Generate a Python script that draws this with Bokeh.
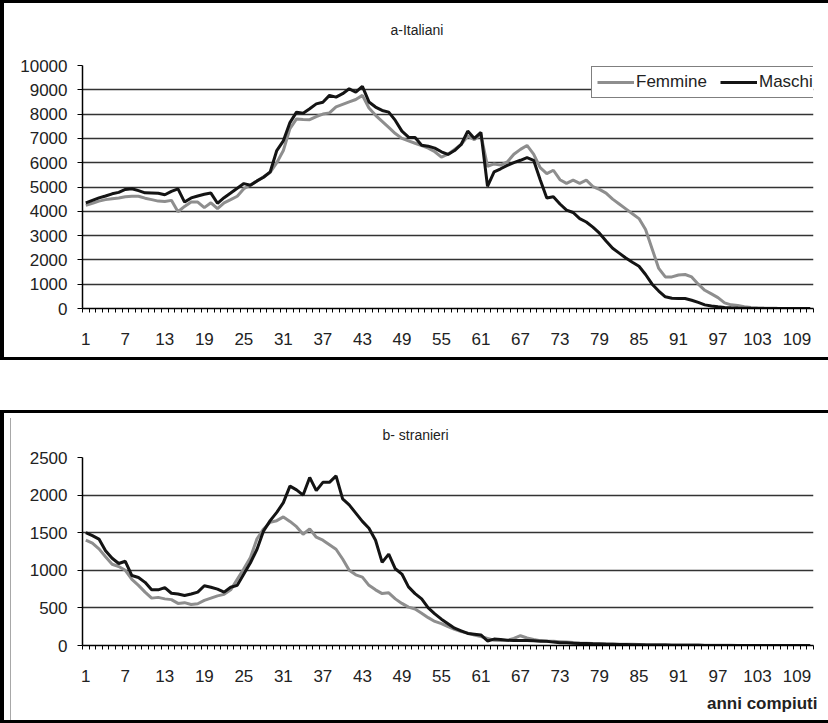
from bokeh.plotting import figure
from bokeh.layouts import column
from bokeh.models import Range1d, FixedTicker, Legend, LegendItem, Spacer, Title
from bokeh.embed import file_html
from bokeh.resources import INLINE

# Età (anni compiuti) come categorie 1..111
ages = list(range(1, 112))
age_ticks = list(range(1, 110, 6))

# a - Italiani
ita_femmine = [
    4250, 4330, 4420, 4480, 4520, 4550, 4600, 4620, 4620, 4540,
    4480, 4420, 4400, 4450, 3980, 4200, 4380, 4380, 4150, 4350,
    4110, 4350, 4480, 4620, 4930, 5080, 5250, 5420, 5600, 6000,
    6500, 7400, 7800, 7780, 7770, 7900, 8000, 8050, 8300, 8400,
    8500, 8600, 8770, 8250, 7950, 7700, 7450, 7200, 7000, 6900,
    6800, 6700, 6600, 6450, 6230, 6350, 6550, 6750, 7100, 6950,
    7150, 5850, 5950, 5900, 6030, 6350, 6550, 6710, 6350, 5800,
    5550, 5690, 5300, 5150, 5280, 5150, 5280, 5020, 4900, 4750,
    4500, 4300, 4100, 3900, 3700, 3250, 2450, 1650, 1300, 1300,
    1380, 1400, 1300, 1000, 750, 600, 450, 230, 150, 120,
    70, 45, 30, 20, 12, 8, 5, 3, 2, 1, 0,
]
ita_maschi = [
    4350, 4450, 4550, 4630, 4720, 4780, 4900, 4930, 4850, 4760,
    4750, 4740, 4680, 4820, 4920, 4380, 4550, 4630, 4700, 4750,
    4330, 4560, 4750, 4950, 5140, 5070, 5250, 5400, 5620, 6500,
    6900, 7650, 8080, 8040, 8220, 8420, 8490, 8770, 8700, 8840,
    9040, 8900, 9140, 8500, 8290, 8150, 8080, 7740, 7300, 7050,
    7040, 6720, 6680, 6600, 6450, 6340, 6500, 6750, 7300, 7000,
    7250, 5030, 5620, 5750, 5890, 6000, 6100, 6210, 6100, 5300,
    4550, 4600, 4300, 4050, 3950, 3700, 3560, 3350, 3100, 2780,
    2480, 2280, 2080, 1900, 1740, 1400, 1000, 720, 480, 420,
    410, 410, 340, 250, 150, 100, 70, 45, 30, 20,
    12, 8, 5, 3, 2, 1, 1, 0, 0, 0, 0,
]

# b - stranieri
str_femmine = [
    1400, 1360, 1285, 1180, 1080, 1050, 1000, 880, 800, 710,
    630, 640, 620, 610, 560, 570, 545, 555, 600, 630,
    660, 680, 740, 880, 1020, 1170, 1420, 1550, 1640, 1660,
    1710, 1650, 1580, 1480, 1550, 1440, 1400, 1340, 1280, 1150,
    1000, 940, 910, 800, 740, 690, 700, 620, 560, 510,
    485, 430, 370, 320, 290, 250, 215, 185, 165, 140,
    120, 95, 70, 65, 70, 95, 130, 100, 80, 65,
    55, 55, 50, 45, 40, 32, 30, 28, 25, 22,
    20, 18, 16, 15, 14, 12, 11, 10, 9, 8,
    7, 6, 5, 5, 4, 3, 3, 2, 2, 1,
    1, 0, 0, 0, 0, 0, 0, 0, 0, 0, 0,
]
str_maschi = [
    1500, 1460, 1415, 1260, 1160, 1090, 1120, 930, 905, 840,
    740, 740, 770, 695, 685, 665, 685, 710, 795, 775,
    750, 710, 775, 800, 950, 1100, 1280, 1525, 1660, 1770,
    1900, 2120, 2070, 2000, 2235, 2060, 2170, 2170, 2255, 1950,
    1870, 1760, 1650, 1560, 1400, 1105, 1215, 1020, 950, 780,
    690, 620, 500, 420, 350, 290, 230, 195, 160, 150,
    140, 60, 85, 80, 70, 65, 65, 65, 62, 58,
    55, 45, 38, 35, 30, 28, 25, 22, 20, 17,
    15, 13, 12, 10, 9, 8, 7, 6, 5, 4,
    3, 3, 2, 2, 1, 0, 0, 0, 0, 0,
    0, 0, 0, 0, 0, 0, 0, 0, 0, 0, 0,
]

ita_yticks = list(range(0, 10001, 1000))
str_yticks = list(range(0, 2501, 500))

FONT = "Liberation Sans"
GREY = "#8e8e8e"
BLACK = "#141414"
TEXT = "#222222"


def make_panel(height, border, yticks, ymax, fem, mas, css):
    p = figure(width=828, height=height, output_backend="svg", toolbar_location=None,
               x_range=Range1d(0.5, 111.5), y_range=Range1d(0, ymax),
               min_border_left=border[0], min_border_right=border[1],
               min_border_top=border[2], min_border_bottom=border[3])
    p.styles = css
    p.border_fill_color = None
    p.background_fill_color = "white"
    p.outline_line_color = None
    p.xgrid.grid_line_color = None
    p.ygrid.grid_line_color = "#333333"
    p.ygrid.grid_line_width = 1.4

    xa = p.xaxis[0]
    xa.ticker = FixedTicker(ticks=age_ticks, minor_ticks=[a - 0.5 for a in ages] + [111.5])
    xa.major_tick_out = 0
    xa.major_tick_in = 0
    xa.minor_tick_out = 4
    xa.minor_tick_in = 0
    xa.minor_tick_line_color = "black"
    xa.axis_line_color = "black"
    xa.axis_line_width = 1.5
    xa.major_label_standoff = 20

    ya = p.yaxis[0]
    ya.ticker = FixedTicker(ticks=yticks)
    ya.major_tick_out = 5
    ya.major_tick_in = 0
    ya.major_tick_line_color = "black"
    ya.minor_tick_line_color = None
    ya.axis_line_color = "black"
    ya.axis_line_width = 1.5
    ya.major_label_standoff = 10

    for ax in (xa, ya):
        ax.major_label_text_font = FONT
        ax.major_label_text_font_size = "17px"
        ax.major_label_text_color = TEXT

    rf = p.line(ages, fem, line_color=GREY, line_width=3)
    rm = p.line(ages, mas, line_color=BLACK, line_width=3)
    return p, rf, rm


def chart_title(text, offset, standoff, size="14px", style="normal", align="left"):
    return Title(text=text, align=align, offset=offset, standoff=standoff,
                 text_font=FONT, text_font_size=size, text_font_style=style,
                 text_color=TEXT)


top_css = {"box-shadow": "inset 4px 0 0 0 #000, inset 0 3px 0 0 #000, inset 0 -3px 0 0 #000"}
bottom_css = {
    "box-shadow": "inset 4px 0 0 0 #000, inset 0 3px 0 0 #000, inset 0 -3px 0 0 #000",
    "background": "linear-gradient(#a8a8a8, #a8a8a8) 10px 8px / 1px calc(100% - 8px) no-repeat",
}

# pannello a: spazio vuoto fra titolo e area del grafico, poi il titolo
p1, f1, m1 = make_panel(360, (79, 10, 65, 52), ita_yticks, 10000,
                        ita_femmine, ita_maschi, top_css)
p1.add_layout(chart_title(" ", 0, 10), "above")
p1.add_layout(chart_title("a-Italiani", 308, 0), "above")

legend = Legend(items=[LegendItem(label="Femmine", renderers=[f1]),
                       LegendItem(label="Maschi", renderers=[m1])],
                location=(509, 210), orientation="horizontal",
                padding=5, spacing=0, margin=0,
                glyph_width=37, glyph_height=20, label_standoff=2, label_width=84,
                label_text_font=FONT, label_text_font_size="17px", label_text_color=TEXT,
                border_line_color="black", border_line_width=1.5,
                background_fill_color="white", background_fill_alpha=1.0)
p1.add_layout(legend)

# pannello b
p2, f2, m2 = make_panel(313, (82, 15, 47, 78), str_yticks, 2500,
                        str_femmine, str_maschi, bottom_css)
p2.add_layout(chart_title("b- stranieri", 300, 29), "above")
p2.add_layout(chart_title("anni compiuti", -4, 14, size="17px", style="bold",
                          align="right"), "below")

page = column(p1, Spacer(width=828, height=50), p2)
open("out.html", "w").write(file_html(page, INLINE))
